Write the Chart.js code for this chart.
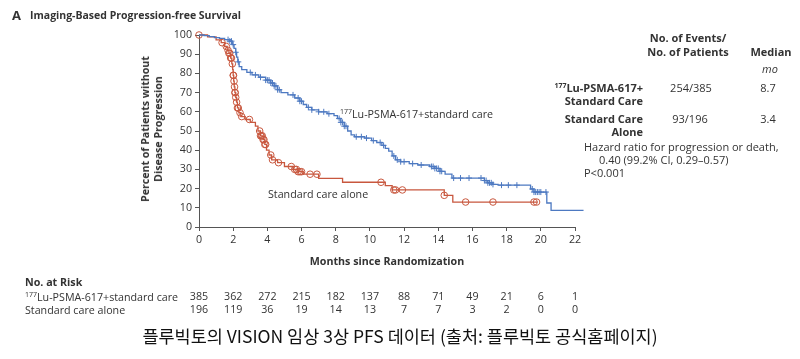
<!DOCTYPE html>
<html>
<head>
<meta charset="utf-8">
<script src="https://cdn.jsdelivr.net/npm/chart.js@4.4.1/dist/chart.umd.min.js"></script>
<style>
  html, body { margin: 0; padding: 0; background: #fff; }
  #wrap { position: relative; width: 800px; height: 359px; overflow: hidden; font-family: "Open Sans", "Noto Sans", sans-serif; color: #333; }
  #c { position: absolute; left: 0; top: 0; }
  .t { position: absolute; white-space: nowrap; line-height: 1; transform: translateY(-50%); font-size: 10.7px; }
  .k { font-size: 11px; }
  .b { font-weight: bold; }
  .r { transform: translate(-100%, -50%); text-align: right; }
  .m { transform: translate(-50%, -50%); text-align: center; }
  sup { font-size: 7px; vertical-align: 4px; line-height: 0; }
  #ytitle { position: absolute; left: 152px; top: 129px; transform: translate(-50%, -50%) rotate(-90deg); text-align: center; font-weight: bold; font-size: 10.6px; line-height: 13px; white-space: nowrap; }
  #caption { position: absolute; left: 400px; top: 336px; transform: translate(-50%, -50%); font-family: "Noto Sans CJK KR", sans-serif; font-size: 17.5px; color: #111; white-space: nowrap; line-height: 1; }
</style>
</head>
<body>
<div id="wrap">
  <canvas id="c" width="800" height="359"></canvas>

  <div class="t b" style="left:12px; top:15px; font-size:13px;">A</div>
  <div class="t b" style="left:30px; top:15px; font-size:10.5px;">Imaging-Based Progression-free Survival</div>

  <div id="ytitle">Percent of Patients without<br>Disease Progression</div>
  <div class="t b m" style="left:387px; top:261px;">Months since Randomization</div>

  <div class="t" style="left:340px; top:114px;"><sup>177</sup>Lu-PSMA-617+standard care</div>
  <div class="t" style="left:268px; top:194px;">Standard care alone</div>

  <div class="t k b m" style="left:688px; top:37px;">No. of Events/</div>
  <div class="t k b m" style="left:688px; top:51px;">No. of Patients</div>
  <div class="t k b m" style="left:771px; top:51px;">Median</div>
  <div class="t k m" style="left:770px; top:68px; font-style:italic;">mo</div>

  <div class="t k b r" style="left:643px; top:87px;"><sup>177</sup>Lu-PSMA-617+</div>
  <div class="t k b r" style="left:643px; top:100px;">Standard Care</div>
  <div class="t k m" style="left:691px; top:87px;">254/385</div>
  <div class="t k m" style="left:768px; top:87px;">8.7</div>

  <div class="t k b r" style="left:643px; top:118px;">Standard Care</div>
  <div class="t k b r" style="left:643px; top:131px;">Alone</div>
  <div class="t k m" style="left:690px; top:118px;">93/196</div>
  <div class="t k m" style="left:768px; top:118px;">3.4</div>

  <div class="t k" style="left:584px; top:146px;">Hazard ratio for progression or death,</div>
  <div class="t k" style="left:599px; top:159px;">0.40 (99.2% CI, 0.29–0.57)</div>
  <div class="t k" style="left:584px; top:172px;">P&lt;0.001</div>

  <div class="t b" style="left:25px; top:282px;">No. at Risk</div>
  <div class="t" style="left:25px; top:297px;"><sup>177</sup>Lu-PSMA-617+standard care</div>
  <div class="t" style="left:25px; top:310px;">Standard care alone</div>

  <div id="caption">플루빅토의 VISION 임상 3상 PFS 데이터 (출처: 플루빅토 공식홈페이지)</div>
</div>

<script>
// ---- Data ----
const monthTicks = [0, 2, 4, 6, 8, 10, 12, 14, 16, 18, 20, 22];

const luTimes = [0, 0.3, 0.6, 0.9, 1.2, 1.5, 1.8, 1.95, 2.05, 2.15, 2.2, 2.27, 2.35, 2.5, 2.8, 3.1, 3.5, 3.9, 4.2, 4.4, 4.6, 4.8, 5.2, 5.6, 5.9, 6.1, 6.3, 6.6, 7.0, 7.5, 7.9, 8.1, 8.3, 8.5, 8.7, 8.9, 9.1, 9.7, 10.1, 10.4, 10.7, 10.9, 11.1, 11.3, 11.5, 11.8, 12.3, 12.8, 13.5, 13.8, 14.1, 14.4, 14.8, 16.7, 16.9, 17.2, 17.5, 19.4, 19.6, 20.35, 20.6, 22.5];
const luSurv  = [100, 99.7, 99.2, 98.6, 98.2, 97.6, 96.8, 95, 93, 91, 88.5, 86, 83.5, 82, 80.5, 79.2, 78, 76.5, 75, 73.5, 71.5, 70, 68.8, 67.2, 65.5, 63.8, 62.3, 61, 60, 59, 58, 56.5, 54.5, 52.5, 50, 48, 47, 46.3, 45, 44, 42.5, 41, 39.5, 37, 35, 34, 33, 32.3, 31.5, 30.5, 29, 27.5, 25.5, 24.2, 23, 22.2, 21.8, 19.8, 18.2, 12.5, 8.7, 8.7];

const scTimes = [0, 0.5, 1.0, 1.3, 1.5, 1.65, 1.75, 1.85, 1.92, 1.97, 2.0, 2.03, 2.06, 2.1, 2.15, 2.2, 2.25, 2.33, 2.45, 2.7, 3.0, 3.3, 3.45, 3.6, 3.75, 3.85, 3.95, 4.1, 4.25, 4.6, 5.0, 5.5, 5.8, 6.1, 7.0, 8.4, 10.9, 11.3, 14.35, 14.85, 19.8];
const scSurv  = [100, 99, 97.5, 96, 94, 92, 90.5, 88, 85, 82, 79, 76, 73, 70, 67.5, 65, 62, 59.5, 57.5, 56, 54.5, 52.5, 50, 47.5, 45.5, 43, 40, 37.5, 35, 33.5, 31.5, 30, 28.8, 27.5, 25.3, 23.3, 21.5, 19.3, 16.5, 13, 13];

const luCensor = [1.7, 1.8, 1.9, 2.0, 2.15, 2.3, 3.0, 3.3, 3.6, 3.9, 4.0, 4.1, 4.2, 4.3, 4.4, 4.5, 4.6, 4.7, 5.5, 5.8, 5.9, 6.0, 6.4, 6.6, 7.0, 7.3, 7.6, 8.2, 8.3, 8.4, 8.5, 8.6, 9.2, 9.5, 9.8, 10.2, 10.6, 10.8, 11.4, 11.6, 11.8, 12.0, 12.5, 13.0, 13.6, 13.7, 13.8, 13.9, 14.0, 14.1, 14.2, 14.9, 15.3, 15.8, 16.5, 16.7, 16.8, 16.9, 17.0, 17.1, 17.2, 17.7, 18.1, 18.6, 19.5, 19.6, 19.7, 19.8, 19.9, 20.0, 20.3, 22.5];
const scCensor = [0, 1.35, 1.6, 1.7, 1.75, 1.8, 1.85, 1.9, 1.95, 2.0, 2.02, 2.05, 2.08, 2.1, 2.12, 2.15, 2.2, 2.25, 2.3, 2.4, 2.5, 2.95, 3.55, 3.6, 3.65, 3.7, 3.75, 3.8, 3.85, 3.9, 4.2, 4.3, 4.65, 5.4, 5.6, 5.7, 5.8, 5.9, 6.0, 6.5, 6.9, 10.65, 11.4, 11.5, 11.9, 14.35, 15.6, 17.2, 19.6, 19.75];

const riskLu = [385, 362, 272, 215, 182, 137, 88, 71, 49, 21, 6, 1];
const riskSc = [196, 119, 36, 19, 14, 13, 7, 7, 3, 2, 0, 0];

// ---- Helpers ----
function survAt(times, surv, t) {
  let v = surv[0];
  for (let i = 0; i < times.length; i++) { if (times[i] <= t + 1e-9) v = surv[i]; else break; }
  return v;
}
const toPts = (times, surv) => times.map((t, i) => ({ x: t, y: surv[i] }));
const censorPts = (cs, times, surv) => cs.map(t => ({ x: t, y: survAt(times, surv, t) }));

const BLUE = '#4d79c1';
const RED = '#c8573e';
const AXIS = '#555';
const TXT = '#333';
const FONT = '"Open Sans", "Noto Sans", sans-serif';

const riskPlugin = {
  id: 'riskTable',
  afterDraw(chart) {
    const ctx = chart.ctx, xs = chart.scales.x;
    ctx.save();
    ctx.font = '10.7px ' + FONT;
    ctx.fillStyle = TXT;
    ctx.textAlign = 'center';
    ctx.textBaseline = 'middle';
    monthTicks.forEach((m, i) => {
      const px = xs.getPixelForValue(m);
      ctx.fillText(String(riskLu[i]), px, 297);
      ctx.fillText(String(riskSc[i]), px, 310);
    });
    ctx.restore();
  }
};

new Chart(document.getElementById('c'), {
  type: 'scatter',
  data: {
    datasets: [
      { data: toPts(luTimes, luSurv), showLine: true, stepped: true, borderColor: BLUE, borderWidth: 1.3, pointRadius: 0, clip: false },
      { data: toPts(scTimes, scSurv), showLine: true, stepped: true, borderColor: RED, borderWidth: 1.3, pointRadius: 0, clip: false },
      { data: censorPts(luCensor, luTimes, luSurv), showLine: false, pointStyle: 'cross', pointRadius: 3, borderColor: BLUE, borderWidth: 1, clip: false },
      { data: censorPts(scCensor, scTimes, scSurv), showLine: false, pointStyle: 'circle', pointRadius: 3.3, borderColor: RED, backgroundColor: 'rgba(255,255,255,0)', borderWidth: 1, clip: false }
    ]
  },
  options: {
    responsive: false,
    devicePixelRatio: 1,
    animation: false,
    layout: { padding: { left: 140, top: 35, right: 225, bottom: 100 } },
    plugins: { legend: { display: false }, tooltip: { enabled: false }, title: { display: false } },
    scales: {
      x: {
        type: 'linear', min: 0, max: 22,
        afterFit(s) { s.height = 32; },
        afterBuildTicks(s) { s.ticks = monthTicks.map(v => ({ value: v })); },
        ticks: { color: TXT, font: { family: FONT, size: 10.7 }, padding: 3, maxRotation: 0 },
        grid: { drawOnChartArea: false, drawTicks: true, tickLength: 4, color: AXIS },
        border: { color: AXIS, width: 1 }
      },
      y: {
        type: 'linear', min: 0, max: 100,
        afterFit(s) { s.width = 59; },
        ticks: { stepSize: 10, color: TXT, font: { family: FONT, size: 10.7 }, padding: 3 },
        grid: { drawOnChartArea: false, drawTicks: true, tickLength: 4, color: AXIS },
        border: { color: AXIS, width: 1 }
      }
    }
  },
  plugins: [riskPlugin]
});
</script>
</body>
</html>
